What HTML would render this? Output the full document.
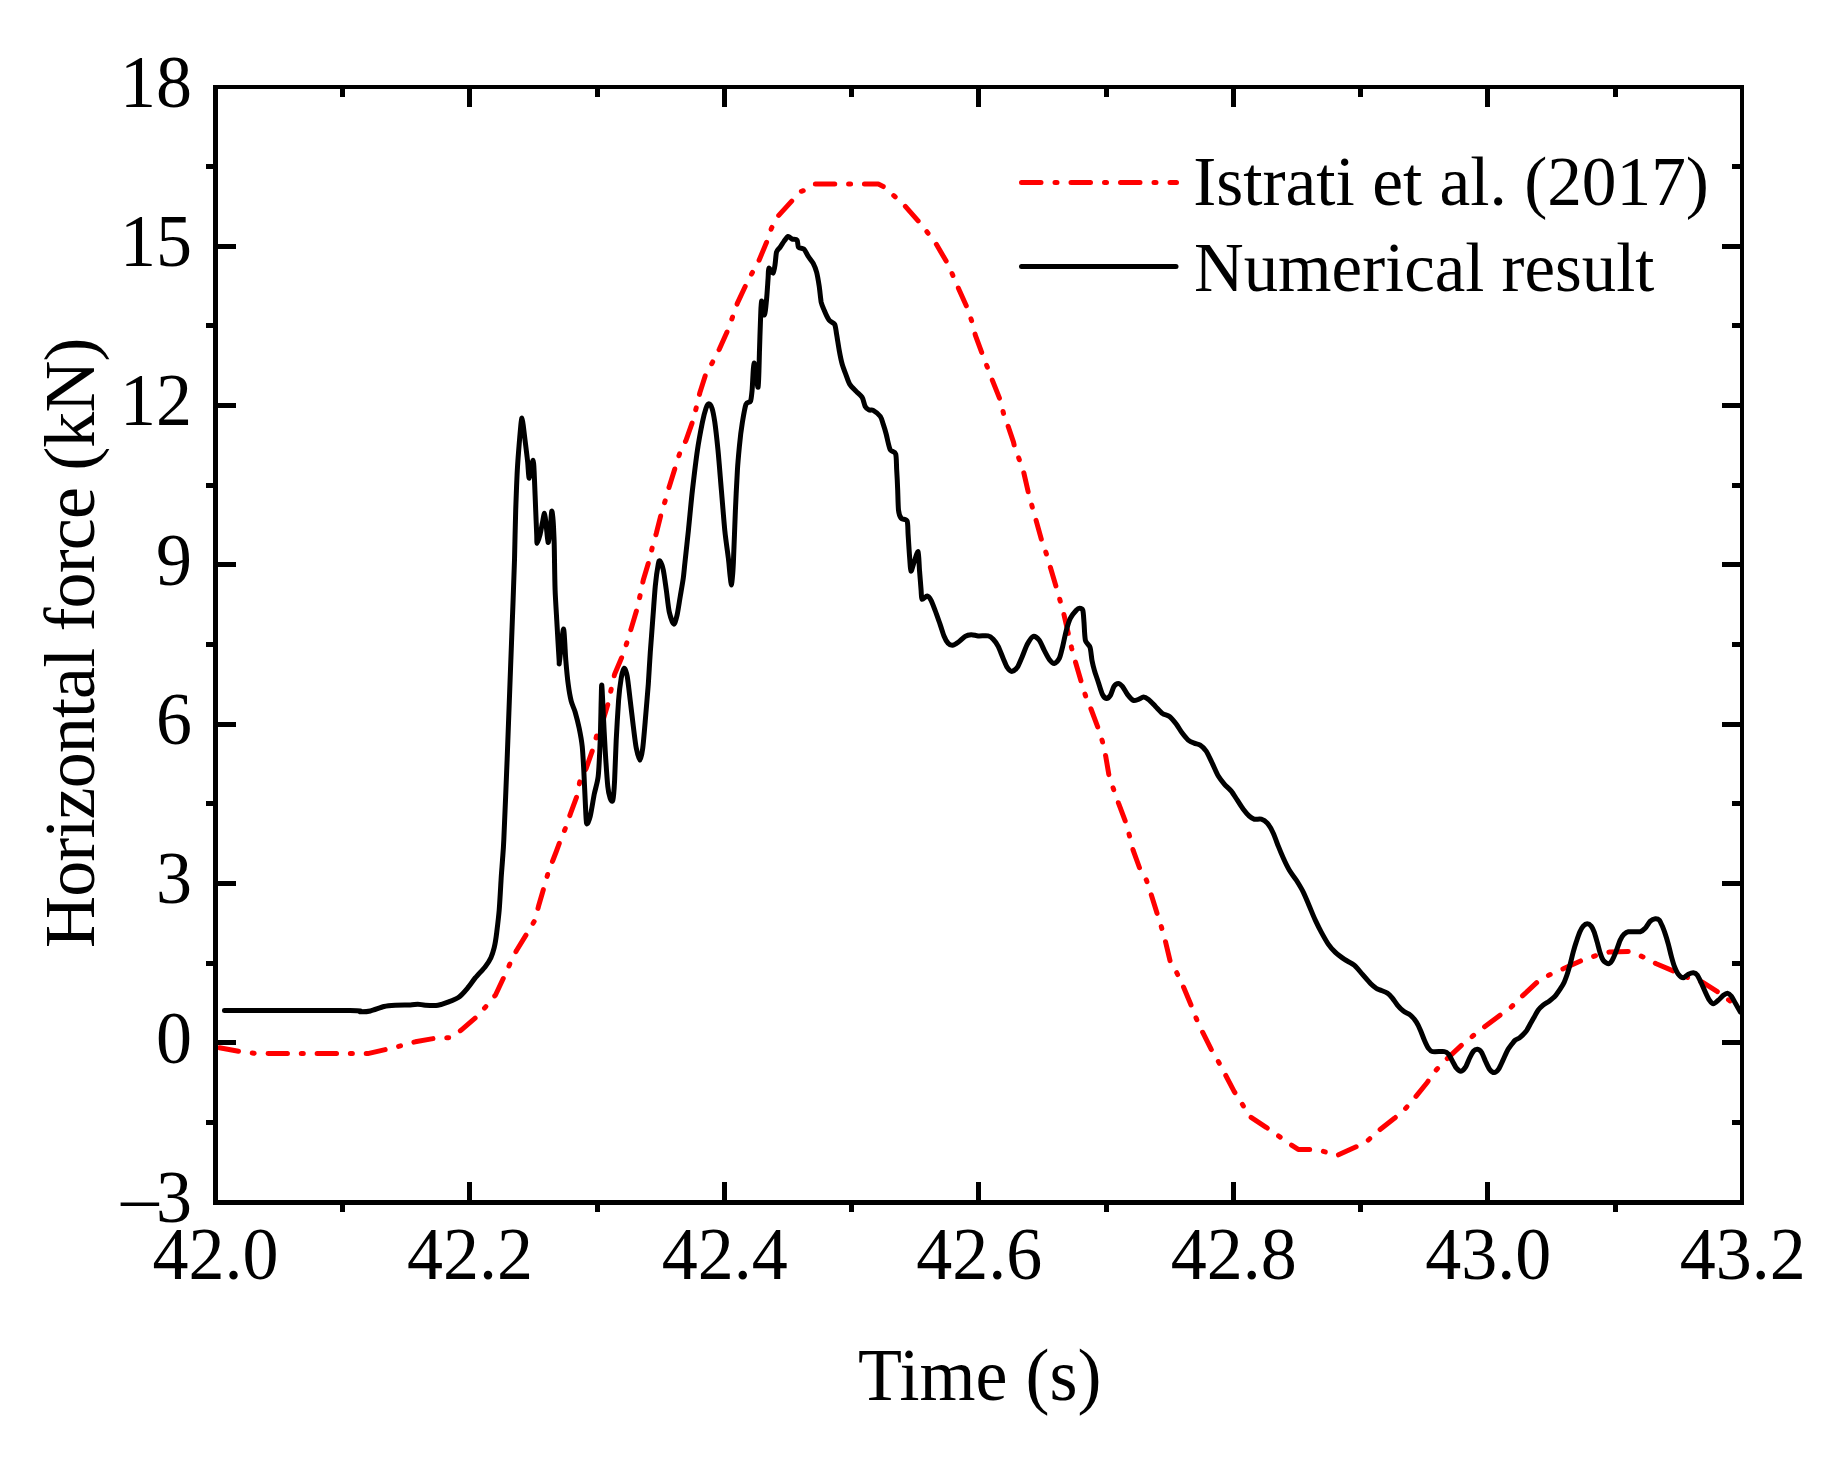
<!DOCTYPE html>
<html lang="en"><head><meta charset="utf-8"><title>Horizontal force vs time</title>
<style>
html,body{margin:0;padding:0;background:#fff;}
body{width:1838px;height:1458px;overflow:hidden;}
svg{display:block;}
text{font-family:"Liberation Serif","Times New Roman",Times,serif;fill:#000;}
</style></head><body>
<svg width="1838" height="1458" viewBox="0 0 1838 1458">
<rect x="0" y="0" width="1838" height="1458" fill="#ffffff"/>
<polyline points="215.5,1047.0 240.0,1051.6 253.8,1053.3 275.1,1053.6 367.8,1053.6 386.5,1049.3 401.6,1045.6 415.3,1041.8 436.6,1038.0 450.4,1037.8 460.9,1030.3 476.7,1016.8 485.9,1006.5 495.4,995.2 504.2,976.5 510.0,963.7 516.7,950.2 527.5,932.6 535.0,920.1 538.5,906.3 544.3,886.3 548.0,873.3 553.0,860.0 556.1,852.0 560.5,840.0 565.8,827.4 570.2,814.4 577.2,795.4 579.8,781.4 586.2,768.3 593.2,748.3 596.6,735.9 601.2,726.3 608.2,703.2 611.4,688.2 614.6,674.2 623.2,654.1 627.2,641.7 631.3,628.1 637.3,608.1 640.3,594.5 643.3,580.0 649.3,560.0 652.3,547.4 656.3,533.4 661.3,513.4 665.3,500.4 669.3,486.4 675.3,467.3 679.7,453.3 686.0,440.3 692.4,422.2 696.4,407.2 700.0,392.2 705.4,375.2 712.4,362.5 719.4,349.1 727.4,331.1 732.4,317.5 737.4,303.1 745.4,286.0 752.1,273.0 759.1,260.2 767.1,241.1 771.5,228.1 778.1,216.1 791.7,201.1 800.1,191.7 805.1,190.1 815.2,184.1 878.3,184.1 884.3,187.1 893.9,195.7 904.3,205.1 918.3,221.1 926.9,231.7 936.3,244.2 947.4,263.2 952.8,275.2 958.4,288.2 967.4,308.3 971.8,321.3 975.4,335.3 982.4,354.3 987.4,367.3 992.8,381.4 1000.4,400.4 1003.5,413.4 1008.5,427.4 1013.5,442.1 1014.6,447.0 1019.3,459.6 1023.9,473.1 1028.7,494.1 1032.3,507.1 1036.3,521.1 1041.9,541.2 1046.3,553.6 1050.3,567.2 1056.3,587.3 1060.3,601.3 1063.9,614.3 1068.7,635.3 1071.7,648.3 1075.3,661.4 1081.4,682.4 1085.4,695.4 1091.0,709.0 1098.1,728.0 1102.5,741.7 1105.7,756.1 1109.1,776.1 1113.3,788.5 1118.5,803.2 1125.7,822.2 1129.5,835.8 1133.1,850.2 1139.7,868.3 1146.5,880.3 1151.1,894.3 1157.2,913.9 1161.4,927.0 1165.2,940.4 1170.2,961.4 1176.8,972.8 1183.1,986.1 1191.1,1005.1 1196.1,1018.1 1202.1,1031.2 1211.1,1049.2 1218.5,1061.8 1225.1,1074.2 1234.1,1091.3 1241.5,1102.9 1249.6,1116.3 1266.2,1127.3 1277.6,1135.3 1288.8,1143.3 1298.2,1149.4 1310.3,1149.4 1323.3,1151.4 1337.3,1155.4 1356.3,1146.7 1368.0,1140.3 1378.4,1130.9 1394.4,1118.3 1404.8,1109.3 1414.4,1098.3 1427.4,1082.2 1434.5,1071.8 1444.5,1061.2 1461.5,1045.2 1472.5,1036.2 1484.0,1027.3 1500.0,1015.2 1511.1,1007.2 1522.1,996.2 1537.1,982.2 1549.5,974.8 1563.2,968.8 1582.2,960.2 1595.2,955.8 1609.2,952.1 1630.3,951.5 1642.3,956.6 1656.3,963.8 1676.3,972.2 1689.4,978.2 1702.4,982.2 1718.4,992.2 1730.4,1001.2 1739.4,1007.2" fill="none" stroke="#ff0000" stroke-width="5" stroke-linecap="round" stroke-linejoin="round" stroke-dasharray="19.4 13.84 2 13.84" stroke-dashoffset="-4"/>
<path d="M224.5,1010.5C240.8,1010.5 332.6,1010.3 350.2,1010.5C367.8,1010.7 357.6,1011.7 360.2,1011.8C362.8,1011.9 367.2,1011.7 370.3,1011.0C373.4,1010.3 380.8,1007.3 384.0,1006.5C387.2,1005.7 391.9,1005.4 395.3,1005.2C398.7,1005.0 407.4,1005.1 410.3,1005.0C413.2,1004.9 415.9,1004.2 417.8,1004.2C419.8,1004.2 422.7,1005.1 425.3,1005.2C427.9,1005.3 435.0,1005.6 437.9,1005.2C440.8,1004.8 445.1,1003.3 447.9,1002.2C450.7,1001.1 456.5,998.9 459.1,997.0C461.7,995.1 465.8,990.2 467.9,987.7C470.0,985.2 473.1,980.5 475.4,977.7C477.7,974.9 483.4,969.0 485.4,966.4C487.4,963.8 489.8,960.1 490.9,957.7C492.0,955.3 493.4,951.0 494.2,947.7C495.0,944.4 496.1,937.5 496.7,932.6C497.3,927.7 498.6,917.2 499.2,910.1C499.8,903.0 500.8,884.1 501.2,877.6C501.6,871.1 502.2,864.9 502.5,860.0C502.8,855.1 503.2,853.0 503.8,840.0C504.4,827.0 506.3,781.1 507.1,760.3C507.9,739.5 509.3,701.0 510.1,680.2C510.9,659.4 512.5,615.7 513.1,600.1C513.7,584.5 514.2,571.7 514.5,560.0C514.8,548.3 515.3,522.1 515.7,510.4C516.1,498.7 516.8,479.4 517.3,470.3C517.8,461.2 519.0,446.3 519.5,440.3C520.0,434.3 520.6,427.4 520.9,424.5C521.2,421.6 521.7,417.9 522.0,418.0C522.3,418.1 522.8,421.8 523.2,425.0C523.6,428.2 524.7,437.5 525.3,442.3C525.9,447.1 527.2,457.6 527.7,462.3C528.2,467.0 528.6,478.6 529.3,478.3C530.0,478.0 532.4,460.0 533.1,460.3C533.8,460.6 534.2,473.8 534.5,480.3C534.8,486.8 535.4,503.4 535.7,510.4C536.0,517.4 536.5,530.1 536.7,534.4C536.9,538.7 536.7,543.4 537.1,543.4C537.5,543.4 539.4,537.1 540.1,534.4C540.8,531.7 541.9,525.1 542.5,522.4C543.1,519.7 544.0,513.1 544.5,513.4C545.0,513.7 545.6,520.6 546.1,524.4C546.6,528.2 547.6,541.6 548.1,542.4C548.6,543.2 549.6,534.4 550.1,530.4C550.6,526.4 551.3,512.7 551.7,511.4C552.1,510.1 552.8,516.6 553.1,520.4C553.4,524.2 553.9,535.3 554.1,540.4C554.3,545.5 554.4,553.6 554.5,560.0C554.6,566.4 554.8,581.4 555.1,590.0C555.4,598.6 556.6,617.0 557.1,626.1C557.6,635.2 558.8,655.6 559.1,660.2C559.4,664.8 558.9,665.2 559.5,661.2C560.1,657.2 562.7,629.2 563.5,629.1C564.3,629.0 565.2,653.0 565.8,660.2C566.4,667.4 567.5,678.9 568.2,684.2C568.9,689.5 570.3,697.6 571.2,701.2C572.1,704.8 574.2,708.7 575.2,712.2C576.2,715.7 578.3,723.9 579.2,728.3C580.1,732.7 581.6,740.8 582.2,746.3C582.8,751.8 583.4,763.3 583.8,770.3C584.2,777.3 584.8,793.5 585.2,800.4C585.6,807.3 586.0,821.3 586.6,823.4C587.2,825.5 589.2,820.2 590.2,816.4C591.2,812.6 593.2,799.6 594.2,794.4C595.2,789.2 597.4,783.3 598.2,776.3C599.0,769.3 599.8,750.2 600.2,740.3C600.6,730.4 601.0,707.4 601.2,700.2C601.4,693.0 601.5,683.6 601.8,685.2C602.1,686.8 602.8,703.7 603.2,712.2C603.6,720.7 604.6,740.7 605.2,750.3C605.8,759.9 607.1,780.1 607.8,786.4C608.4,792.7 609.6,796.6 610.2,798.4C610.9,800.2 612.2,802.7 612.8,800.4C613.4,798.1 614.2,788.2 614.6,780.4C615.0,772.6 615.7,750.7 616.2,740.3C616.7,729.9 618.0,708.3 618.6,700.2C619.2,692.1 620.5,682.4 621.2,678.2C621.9,674.0 623.4,668.5 624.2,668.2C625.0,667.9 626.4,672.0 627.2,676.2C628.0,680.4 629.4,693.7 630.2,700.2C631.0,706.7 632.5,720.0 633.3,726.3C634.1,732.6 635.4,743.9 636.3,748.3C637.2,752.7 639.1,760.3 639.9,760.3C640.7,760.3 642.0,753.5 642.7,748.3C643.4,743.1 644.6,728.6 645.3,720.3C646.0,712.0 647.6,693.1 648.3,684.2C648.9,675.3 649.7,660.4 650.3,652.1C650.9,643.8 652.1,628.7 652.7,620.1C653.4,611.5 654.6,593.3 655.3,586.0C656.0,578.7 657.7,567.2 658.3,564.0C658.9,560.8 659.2,560.2 659.9,561.0C660.5,561.8 662.5,566.2 663.3,570.0C664.1,573.8 665.5,584.5 666.3,590.0C667.1,595.5 668.3,607.7 669.3,612.1C670.3,616.5 672.9,623.8 673.9,624.1C674.9,624.4 676.5,617.7 677.3,614.1C678.1,610.5 679.5,600.8 680.3,596.1C681.1,591.4 682.7,582.4 683.3,578.0C683.9,573.6 684.3,568.2 685.0,562.0C685.7,555.8 687.4,539.7 688.4,530.4C689.4,521.1 691.2,500.8 692.4,490.4C693.6,480.0 696.1,459.2 697.4,450.3C698.7,441.4 701.3,427.7 702.4,422.2C703.5,416.7 705.2,410.6 706.0,408.2C706.8,405.8 708.0,403.8 708.8,403.8C709.6,403.8 711.2,405.8 712.0,408.2C712.8,410.6 714.0,416.7 714.8,422.2C715.6,427.7 717.1,441.4 718.0,450.3C718.9,459.2 720.5,480.0 721.4,490.4C722.3,500.8 723.9,521.5 724.8,530.4C725.7,539.3 727.7,552.7 728.4,558.5C729.1,564.3 729.6,571.6 730.0,575.0C730.4,578.4 731.1,585.0 731.4,585.0C731.7,585.0 732.3,578.0 732.6,575.0C732.9,572.0 733.0,570.5 733.4,562.1C733.8,553.7 734.9,522.3 735.4,510.4C735.9,498.5 736.9,478.6 737.4,470.3C737.9,462.0 738.8,452.6 739.4,446.3C740.0,440.0 741.5,427.7 742.4,422.2C743.3,416.7 744.9,406.9 746.0,404.2C747.1,401.5 749.7,403.0 750.5,401.2C751.3,399.4 751.6,395.2 752.1,390.2C752.6,385.2 753.3,363.5 754.1,363.1C754.9,362.7 757.4,388.9 758.1,387.2C758.8,385.5 759.2,358.8 759.5,350.1C759.8,341.4 760.2,326.5 760.5,320.1C760.8,313.7 761.0,301.6 761.5,301.0C762.0,300.4 763.9,315.2 764.5,315.1C765.1,315.0 766.0,304.8 766.5,300.0C767.0,295.2 767.8,282.3 768.1,278.2C768.4,274.1 768.2,268.8 768.9,268.2C769.5,267.6 772.3,273.7 773.1,273.2C773.9,272.7 774.7,266.9 775.1,264.2C775.5,261.5 775.9,254.4 776.5,252.2C777.1,250.0 779.1,248.6 780.1,247.2C781.1,245.8 783.1,242.5 784.1,241.1C785.1,239.7 787.1,236.8 788.1,236.5C789.1,236.2 790.9,238.6 792.1,239.1C793.3,239.6 796.3,239.0 797.1,240.1C797.9,241.2 797.6,246.0 798.5,247.2C799.4,248.4 802.9,248.0 804.1,249.2C805.3,250.4 806.9,254.4 808.1,256.2C809.3,258.0 812.0,261.1 813.1,263.2C814.2,265.3 815.8,269.2 816.6,272.2C817.4,275.2 818.6,282.3 819.2,286.2C819.8,290.1 820.6,299.1 821.2,302.2C821.9,305.3 823.2,307.9 824.2,310.3C825.2,312.7 827.8,318.5 829.2,320.3C830.6,322.1 833.6,322.5 834.6,324.3C835.6,326.1 836.0,330.9 836.6,334.3C837.2,337.7 838.5,346.4 839.2,350.3C839.9,354.2 841.3,361.2 842.2,364.3C843.1,367.4 844.8,371.8 845.8,374.4C846.8,377.0 848.4,382.2 849.8,384.4C851.2,386.6 854.6,389.7 856.2,391.4C857.8,393.1 861.0,395.4 862.2,397.4C863.4,399.3 864.3,404.8 865.2,406.4C866.1,408.0 868.2,409.5 869.2,410.0C870.2,410.5 871.8,409.6 873.2,410.4C874.6,411.2 879.0,414.6 880.3,416.4C881.6,418.2 882.5,422.0 883.3,424.4C884.1,426.8 885.7,432.2 886.3,434.5C886.9,436.8 887.5,440.0 888.0,442.0C888.5,444.0 889.4,448.4 890.4,450.0C891.4,451.6 894.9,451.4 895.7,454.0C896.5,456.6 896.4,465.4 896.7,470.1C897.0,474.8 897.5,484.9 897.7,490.1C897.9,495.3 898.1,506.5 898.5,510.1C898.9,513.7 900.0,516.7 901.1,518.1C902.2,519.5 906.2,519.0 907.1,521.1C908.0,523.2 907.8,529.4 908.1,534.2C908.4,539.0 909.3,553.4 909.7,558.2C910.1,563.0 910.3,570.7 910.9,571.2C911.5,571.7 913.2,564.7 914.1,562.2C915.0,559.7 917.4,550.8 918.1,551.8C918.8,552.8 919.1,565.2 919.5,570.2C919.9,575.2 920.8,586.5 921.1,590.3C921.4,594.1 921.3,598.6 922.1,599.3C922.9,600.0 925.9,595.8 927.1,595.9C928.3,596.0 930.1,598.4 931.1,600.3C932.1,602.2 933.9,607.2 935.1,610.3C936.3,613.4 938.9,620.9 940.1,624.3C941.3,627.7 943.1,633.8 944.1,636.3C945.1,638.8 947.0,642.1 948.1,643.3C949.2,644.5 951.2,645.4 952.5,645.3C953.8,645.2 956.5,643.5 958.2,642.3C959.9,641.1 963.5,637.3 965.2,636.3C966.9,635.3 969.5,634.8 971.2,634.7C972.9,634.6 976.0,635.7 978.2,635.9C980.4,636.1 986.2,635.5 988.2,635.9C990.2,636.3 991.9,637.9 993.2,639.3C994.5,640.7 996.9,643.8 998.2,646.3C999.5,648.8 1002.0,655.7 1003.2,658.4C1004.4,661.1 1006.1,665.7 1007.2,667.4C1008.3,669.1 1010.5,671.4 1011.8,671.4C1013.1,671.4 1015.9,669.4 1017.3,667.4C1018.7,665.4 1021.0,659.4 1022.3,656.4C1023.6,653.4 1025.9,646.9 1027.3,644.3C1028.7,641.7 1031.7,636.8 1033.3,636.3C1034.9,635.8 1037.9,638.5 1039.3,640.3C1040.7,642.1 1043.0,647.9 1044.3,650.4C1045.6,652.9 1048.0,657.7 1049.3,659.4C1050.6,661.1 1053.0,663.5 1054.3,663.4C1055.6,663.3 1058.2,660.6 1059.3,658.4C1060.4,656.2 1061.8,650.0 1062.7,646.3C1063.6,642.6 1065.3,633.9 1066.3,630.3C1067.3,626.7 1069.0,620.9 1070.3,618.3C1071.6,615.7 1075.1,611.6 1076.3,610.3C1077.5,609.0 1078.6,608.3 1079.4,608.3C1080.2,608.3 1082.2,608.5 1082.8,610.3C1083.4,612.1 1083.7,618.4 1084.0,622.3C1084.3,626.2 1084.6,637.0 1085.4,640.3C1086.2,643.5 1089.1,644.7 1090.0,647.3C1090.9,649.9 1091.4,657.4 1092.0,660.4C1092.6,663.4 1093.6,667.5 1094.4,670.4C1095.2,673.3 1097.4,679.3 1098.4,682.4C1099.4,685.5 1101.4,692.3 1102.4,694.4C1103.4,696.5 1105.4,698.3 1106.4,698.4C1107.4,698.5 1109.4,697.0 1110.4,695.4C1111.4,693.8 1113.0,688.0 1114.0,686.4C1115.0,684.8 1117.3,683.4 1118.4,683.4C1119.5,683.4 1121.2,685.0 1122.4,686.4C1123.6,687.8 1126.0,692.6 1127.4,694.4C1128.8,696.2 1132.0,699.8 1133.4,700.4C1134.8,701.0 1137.2,699.8 1138.5,699.4C1139.8,699.0 1142.2,697.0 1143.5,697.0C1144.8,697.0 1146.9,698.2 1148.5,699.4C1150.1,700.6 1153.7,704.6 1155.5,706.4C1157.3,708.2 1160.7,712.2 1162.5,713.5C1164.3,714.8 1167.7,715.1 1169.5,716.5C1171.3,717.9 1174.5,721.8 1176.2,724.0C1177.9,726.2 1180.6,731.0 1182.2,733.1C1183.8,735.2 1186.6,738.8 1188.2,740.1C1189.8,741.4 1192.6,742.5 1194.2,743.1C1195.8,743.8 1198.6,744.1 1200.2,745.1C1201.8,746.1 1204.6,748.8 1206.2,751.1C1207.8,753.4 1210.6,759.9 1212.2,763.1C1213.8,766.4 1216.7,773.4 1218.3,776.1C1219.9,778.8 1222.6,782.1 1224.3,784.1C1226.0,786.1 1229.6,789.0 1231.3,791.1C1233.0,793.2 1235.7,797.8 1237.3,800.2C1238.9,802.6 1241.7,807.1 1243.3,809.2C1244.9,811.3 1247.9,814.9 1249.3,816.2C1250.7,817.5 1252.7,818.8 1254.3,819.2C1255.9,819.6 1259.6,818.7 1261.3,819.2C1263.0,819.7 1265.7,821.4 1267.3,823.2C1268.9,825.0 1271.9,830.2 1273.3,833.2C1274.7,836.2 1277.0,842.9 1278.3,846.2C1279.6,849.5 1282.0,855.2 1283.4,858.3C1284.8,861.4 1287.7,867.4 1289.4,870.3C1291.1,873.2 1294.6,877.4 1296.4,880.3C1298.2,883.2 1301.7,888.9 1303.4,892.3C1305.1,895.7 1307.8,902.6 1309.4,906.3C1311.0,910.0 1313.8,917.0 1315.4,920.4C1317.0,923.8 1319.7,929.3 1321.4,932.4C1323.1,935.5 1326.6,941.8 1328.4,944.4C1330.2,947.0 1333.3,950.4 1335.4,952.4C1337.5,954.4 1342.0,957.7 1344.5,959.4C1347.0,961.1 1352.2,963.4 1354.5,965.4C1356.8,967.4 1360.4,972.0 1362.5,974.4C1364.6,976.8 1368.7,981.7 1370.5,983.5C1372.3,985.3 1375.2,987.6 1376.5,988.5C1377.8,989.4 1379.0,989.5 1380.4,990.1C1381.8,990.7 1385.8,992.1 1387.4,993.1C1389.0,994.1 1391.1,996.5 1392.4,998.1C1393.7,999.7 1396.0,1003.4 1397.4,1005.1C1398.8,1006.8 1401.7,1009.8 1403.4,1011.1C1405.1,1012.4 1408.7,1013.7 1410.4,1015.1C1412.1,1016.5 1415.1,1020.1 1416.4,1022.1C1417.7,1024.1 1419.4,1027.8 1420.4,1030.2C1421.4,1032.6 1423.4,1037.9 1424.4,1040.2C1425.4,1042.5 1427.3,1046.7 1428.4,1048.2C1429.5,1049.7 1430.4,1051.2 1432.5,1051.6C1434.6,1052.0 1442.4,1051.3 1444.5,1051.6C1446.6,1051.9 1447.5,1053.0 1448.5,1054.2C1449.5,1055.4 1451.5,1059.4 1452.5,1061.2C1453.5,1063.0 1455.4,1066.9 1456.5,1068.2C1457.6,1069.5 1459.7,1071.3 1460.9,1071.2C1462.1,1071.1 1464.4,1068.9 1465.5,1067.2C1466.6,1065.5 1468.5,1060.3 1469.5,1058.2C1470.5,1056.1 1472.5,1052.4 1473.5,1051.2C1474.5,1050.0 1476.5,1049.1 1477.5,1049.2C1478.5,1049.3 1480.5,1050.6 1481.5,1052.2C1482.5,1053.8 1484.5,1059.0 1485.5,1061.2C1486.5,1063.4 1488.4,1067.7 1489.5,1069.2C1490.6,1070.7 1493.0,1072.6 1494.2,1072.6C1495.4,1072.6 1497.5,1070.8 1498.6,1069.2C1499.7,1067.6 1501.8,1062.7 1503.0,1060.2C1504.2,1057.7 1506.4,1052.4 1507.6,1050.2C1508.8,1048.0 1511.6,1044.5 1512.6,1043.2C1513.6,1041.9 1514.1,1041.1 1515.1,1040.3C1516.1,1039.5 1518.7,1038.5 1520.1,1037.3C1521.5,1036.1 1524.8,1033.0 1526.1,1031.3C1527.4,1029.6 1529.1,1026.1 1530.1,1024.3C1531.1,1022.5 1533.1,1019.1 1534.1,1017.3C1535.1,1015.5 1536.9,1011.8 1538.1,1010.2C1539.3,1008.6 1541.7,1006.4 1543.1,1005.2C1544.5,1004.0 1547.5,1002.4 1549.1,1001.2C1550.7,1000.0 1553.7,997.8 1555.1,996.2C1556.5,994.6 1558.9,991.0 1560.1,989.2C1561.3,987.4 1563.3,984.2 1564.2,982.2C1565.1,980.2 1566.4,976.5 1567.2,974.2C1568.0,971.9 1569.4,967.1 1570.2,964.2C1571.0,961.3 1572.4,955.0 1573.2,952.1C1574.0,949.2 1575.3,944.7 1576.2,942.1C1577.1,939.5 1578.9,934.2 1579.8,932.1C1580.7,930.0 1582.2,927.2 1583.2,926.1C1584.2,925.0 1586.2,923.7 1587.2,923.7C1588.2,923.7 1590.3,925.0 1591.2,926.1C1592.1,927.2 1593.4,930.0 1594.2,932.1C1595.0,934.2 1596.4,939.4 1597.2,942.1C1598.0,944.8 1599.4,950.7 1600.2,953.1C1601.0,955.5 1602.2,958.8 1603.2,960.2C1604.2,961.6 1607.0,963.8 1608.2,963.8C1609.4,963.8 1611.2,961.9 1612.2,960.2C1613.2,958.5 1615.2,953.7 1616.2,951.1C1617.2,948.5 1619.2,942.3 1620.2,940.1C1621.2,937.9 1623.1,935.2 1624.2,934.1C1625.3,933.0 1626.2,932.0 1628.3,931.7C1630.4,931.4 1638.1,932.2 1640.3,931.7C1642.5,931.2 1644.0,929.5 1645.3,928.1C1646.6,926.7 1649.0,922.3 1650.3,921.1C1651.6,919.9 1654.1,918.8 1655.3,918.7C1656.5,918.6 1658.4,919.1 1659.3,920.1C1660.2,921.1 1661.5,924.3 1662.3,926.1C1663.1,927.9 1664.5,931.8 1665.3,934.1C1666.1,936.4 1667.5,941.2 1668.3,944.1C1669.1,947.0 1670.5,953.3 1671.3,956.2C1672.1,959.1 1673.4,963.9 1674.3,966.2C1675.2,968.5 1677.1,972.7 1678.3,974.2C1679.5,975.7 1682.0,977.8 1683.3,977.8C1684.6,977.8 1687.1,974.9 1688.4,974.2C1689.7,973.6 1692.2,972.7 1693.4,972.8C1694.6,972.9 1696.4,973.8 1697.4,975.2C1698.4,976.6 1700.4,981.0 1701.4,983.2C1702.4,985.4 1704.4,990.0 1705.4,992.2C1706.4,994.4 1708.4,998.7 1709.4,1000.2C1710.4,1001.7 1712.2,1003.8 1713.4,1003.8C1714.6,1003.8 1717.1,1001.3 1718.4,1000.2C1719.7,999.1 1722.2,996.1 1723.4,995.2C1724.6,994.3 1726.4,993.1 1727.4,993.2C1728.4,993.3 1730.4,994.9 1731.4,996.2C1732.4,997.5 1734.2,1001.1 1735.4,1003.2C1736.6,1005.3 1739.8,1011.0 1740.4,1012.2" fill="none" stroke="#000000" stroke-width="5" stroke-linecap="round" stroke-linejoin="round"/>
<g fill="#000" shape-rendering="crispEdges">
<rect x="213" y="85" width="5" height="1120"/>
<rect x="1740" y="85" width="4" height="1120"/>
<rect x="213" y="85" width="1531" height="4"/>
<rect x="213" y="1200" width="1531" height="5"/>
<rect x="340" y="1205" width="5" height="7"/>
<rect x="340" y="89" width="5" height="8"/>
<rect x="467" y="1182" width="5" height="18"/>
<rect x="467" y="89" width="5" height="18"/>
<rect x="595" y="1205" width="5" height="7"/>
<rect x="595" y="89" width="5" height="8"/>
<rect x="722" y="1182" width="5" height="18"/>
<rect x="722" y="89" width="5" height="18"/>
<rect x="849" y="1205" width="5" height="7"/>
<rect x="849" y="89" width="5" height="8"/>
<rect x="976" y="1182" width="5" height="18"/>
<rect x="976" y="89" width="5" height="18"/>
<rect x="1104" y="1205" width="5" height="7"/>
<rect x="1104" y="89" width="5" height="8"/>
<rect x="1231" y="1182" width="5" height="18"/>
<rect x="1231" y="89" width="5" height="18"/>
<rect x="1358" y="1205" width="5" height="7"/>
<rect x="1358" y="89" width="5" height="8"/>
<rect x="1485" y="1182" width="5" height="18"/>
<rect x="1485" y="89" width="5" height="18"/>
<rect x="1613" y="1205" width="5" height="7"/>
<rect x="1613" y="89" width="5" height="8"/>
<rect x="206" y="164" width="7" height="5"/>
<rect x="1732" y="164" width="8" height="5"/>
<rect x="218" y="244" width="18" height="5"/>
<rect x="1722" y="244" width="18" height="5"/>
<rect x="206" y="323" width="7" height="5"/>
<rect x="1732" y="323" width="8" height="5"/>
<rect x="218" y="403" width="18" height="5"/>
<rect x="1722" y="403" width="18" height="5"/>
<rect x="206" y="483" width="7" height="5"/>
<rect x="1732" y="483" width="8" height="5"/>
<rect x="218" y="562" width="18" height="5"/>
<rect x="1722" y="562" width="18" height="5"/>
<rect x="206" y="642" width="7" height="5"/>
<rect x="1732" y="642" width="8" height="5"/>
<rect x="218" y="722" width="18" height="5"/>
<rect x="1722" y="722" width="18" height="5"/>
<rect x="206" y="801" width="7" height="5"/>
<rect x="1732" y="801" width="8" height="5"/>
<rect x="218" y="881" width="18" height="5"/>
<rect x="1722" y="881" width="18" height="5"/>
<rect x="206" y="961" width="7" height="5"/>
<rect x="1732" y="961" width="8" height="5"/>
<rect x="218" y="1040" width="18" height="5"/>
<rect x="1722" y="1040" width="18" height="5"/>
<rect x="206" y="1120" width="7" height="5"/>
<rect x="1732" y="1120" width="8" height="5"/>
</g>
<g font-size="72px" text-anchor="middle">
<text transform="translate(215.6,1279) scale(1,1.04)">42.0</text>
<text transform="translate(470.1,1279) scale(1,1.04)">42.2</text>
<text transform="translate(724.7,1279) scale(1,1.04)">42.4</text>
<text transform="translate(979.2,1279) scale(1,1.04)">42.6</text>
<text transform="translate(1233.7,1279) scale(1,1.04)">42.8</text>
<text transform="translate(1488.3,1279) scale(1,1.04)">43.0</text>
<text transform="translate(1742.8,1279) scale(1,1.04)">43.2</text>
</g>
<g font-size="72px" text-anchor="end">
<text transform="translate(192,106.6) scale(1,1.04)">18</text>
<text transform="translate(192,266.0) scale(1,1.04)">15</text>
<text transform="translate(192,425.3) scale(1,1.04)">12</text>
<text transform="translate(192,584.7) scale(1,1.04)">9</text>
<text transform="translate(192,744.0) scale(1,1.04)">6</text>
<text transform="translate(192,903.4) scale(1,1.04)">3</text>
<text transform="translate(192,1062.7) scale(1,1.04)">0</text>
<text transform="translate(192,1222.1) scale(1,1.04)">3</text>
<text transform="translate(116.5,1228.2) scale(1.15,1)" text-anchor="start">−</text>
</g>
<text transform="translate(979.8,1400.3) scale(1,1.03)" font-size="72px" text-anchor="middle">Time (s)</text>
<text transform="translate(93.7,642.7) rotate(-90)" font-size="72px" textLength="610.5" text-anchor="middle">Horizontal force (kN)</text>
<line x1="1021.5" y1="182.5" x2="1176.5" y2="182.5" stroke="#ff0000" stroke-width="5" stroke-linecap="round" stroke-dasharray="19.5 14 2 14"/>
<line x1="1021.5" y1="266.5" x2="1176" y2="266.5" stroke="#000" stroke-width="5" stroke-linecap="round"/>
<text x="1193.2" y="205" font-size="69.3px">Istrati et al. (2017)</text>
<text x="1194" y="290.5" font-size="68.8px">Numerical result</text>
</svg>
</body></html>
